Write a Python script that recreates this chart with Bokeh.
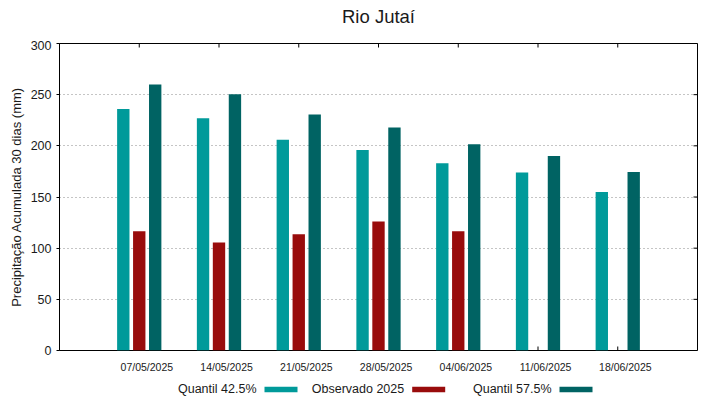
import math
from bokeh.plotting import figure
from bokeh.models import ColumnDataSource, Range1d, LinearAxis, FixedTicker
from bokeh.layouts import column
from bokeh.transform import dodge
from bokeh.core.properties import value
from bokeh.embed import file_html
from bokeh.resources import INLINE

# ---- data ----
title = "Rio Jutaí"
ylabel = "Precipitação Acumulada 30 dias (mm)"
dates = ["07/05/2025", "14/05/2025", "21/05/2025", "28/05/2025",
         "04/06/2025", "11/06/2025", "18/06/2025"]
q425 = [236, 227, 206, 196, 183, 174, 155]
obs = [116.5, 105.5, 113.5, 126, 116.5, float("nan"), float("nan")]
q575 = [260, 250.5, 230.5, 218, 201.5, 190, 174.5]
y_ticks = [0, 50, 100, 150, 200, 250, 300]
series_names = ["Quantil 42.5%", "Observado 2025", "Quantil 57.5%"]
series_colors = ["#009a9a", "#990c0c", "#006363"]

FONT = "Liberation Sans"
TXT = "#1a1a1a"

# layout (px)
W = 719
H_TITLE, H_MAIN, H_LEG = 40, 336, 23
BL, BR, BT, BB = 59, 22, 3, 26

idx = list(range(len(dates)))
XMIN, XMAX = -1, len(dates)
YMIN, YMAX = y_ticks[0], y_ticks[-1]
src = ColumnDataSource(dict(x=idx, q425=q425, obs=obs, q575=q575))


def strip(height, y0):
    """A plain figure whose frame is aligned with the main frame; data units = page px."""
    f = figure(width=W, height=height, output_backend="svg", toolbar_location=None,
               x_range=Range1d(BL, W - BR), y_range=Range1d(y0 + height, y0),
               min_border_left=BL, min_border_right=BR, min_border_top=0,
               min_border_bottom=0, x_axis_location=None, y_axis_location=None)
    f.grid.visible = False
    f.outline_line_color = None
    f.background_fill_color = "white"
    f.border_fill_color = "white"
    return f


# ---- title strip ----
tfig = strip(H_TITLE, 0)
tfig.text(x=[(BL + W - BR) / 2], y=[16], text=[title], text_align="center",
          text_baseline="middle", text_font=value(FONT), text_font_size="18.5px",
          text_color=TXT)

# ---- main chart ----
p = figure(width=W, height=H_MAIN, output_backend="svg", toolbar_location=None,
           x_range=Range1d(XMIN, XMAX), y_range=Range1d(YMIN, YMAX),
           x_axis_location=None,
           min_border_left=BL, min_border_right=BR, min_border_top=BT,
           min_border_bottom=BB)
p.outline_line_color = "black"
p.outline_line_width = 1
p.background_fill_color = "white"
p.border_fill_color = "white"

# mirrored inward tick marks (drawn first so that bars cover them)
tick_src = ColumnDataSource(dict(x=idx, ybot=[YMIN] * len(idx), ytop=[YMAX] * len(idx)))
p.scatter(x="x", y="ybot", source=tick_src, marker="dash", angle=math.pi / 2,
          size=8, line_color="black", line_width=1)
p.scatter(x="x", y="ytop", source=tick_src, marker="dash", angle=math.pi / 2,
          size=8, line_color="black", line_width=1)
rt_src = ColumnDataSource(dict(x=[XMAX] * len(y_ticks), y=y_ticks))
p.scatter(x="x", y="y", source=rt_src, marker="dash", size=8,
          line_color="black", line_width=1)

bw = 0.155
cols = ["q425", "obs", "q575"]
offs = [-0.2, 0.0, 0.2]
for c, o, col in zip(cols, offs, series_colors):
    p.vbar(x=dodge("x", o, range=p.x_range), top=c, width=bw, bottom=0,
           source=src, fill_color=col, line_color=None)

# label axis, labels slightly shifted right as in reference
shift = 0.095
p.extra_x_ranges = {"lbl": Range1d(XMIN - shift, XMAX - shift)}
la = LinearAxis(x_range_name="lbl", ticker=FixedTicker(ticks=idx),
                major_label_overrides={i: d for i, d in enumerate(dates)})
la.major_tick_in = 0
la.major_tick_out = 0
la.minor_tick_line_color = None
la.major_tick_line_color = None
la.axis_line_color = None
la.major_label_standoff = 10
la.major_label_text_font = FONT
la.major_label_text_font_size = "10.5px"
la.major_label_text_color = TXT
p.add_layout(la, "below")

# left axis
ya = p.left[0]
ya.ticker = FixedTicker(ticks=y_ticks)
ya.major_tick_out = 3
ya.major_tick_in = 0
ya.minor_tick_line_color = None
ya.major_label_standoff = 5
ya.major_label_text_font = FONT
ya.major_label_text_font_size = "12.5px"
ya.major_label_text_color = TXT
ya.axis_label = ylabel
ya.axis_label_text_font = FONT
ya.axis_label_text_font_size = "13px"
ya.axis_label_text_font_style = "normal"
ya.axis_label_text_color = TXT
ya.axis_label_standoff = 4
ya.axis_line_color = "black"

p.xgrid.visible = False
p.ygrid.ticker = FixedTicker(ticks=y_ticks)
p.ygrid.grid_line_color = "#8a8a8a"
p.ygrid.grid_line_dash = "1 3"
p.ygrid.grid_line_width = 1

# ---- legend strip (text before sample, as in reference) ----
leg = strip(H_LEG, H_TITLE + H_MAIN)
sample_left = [264, 411.7, 559]
leg_src = ColumnDataSource(dict(
    name=series_names, color=series_colors,
    tx=[s - 8 for s in sample_left],
    sx=[s + 16.5 for s in sample_left],
    ty=[388] * 3, sy=[389] * 3))
leg.text(x="tx", y="ty", text="name", source=leg_src, text_align="right",
         text_baseline="middle", text_font=value(FONT),
         text_font_size="12.5px", text_color=TXT)
leg.rect(x="sx", y="sy", width=33, height=5.5, source=leg_src,
         fill_color="color", line_color=None)

layout = column(tfig, p, leg, spacing=0)
open("out.html", "w").write(file_html(layout, INLINE))
